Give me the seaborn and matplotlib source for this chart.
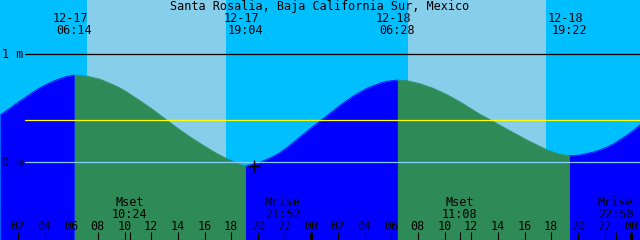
import matplotlib
matplotlib.use("Agg")
import matplotlib.pyplot as plt
import matplotlib.transforms as mtransforms
import seaborn as sns
import pandas as pd

title = "Santa Rosalia, Baja California Sur, Mexico"

# tide curve samples (hours since 12-17 00:00, metres)
tide_hours = [0.66, 1.16, 1.66, 2.16, 2.66, 3.16, 3.66, 4.16, 4.66, 5.16, 5.66, 6.233,
              7.16, 8.16, 9.16, 9.66, 10.16, 10.64, 11.16, 12.16, 12.66, 13.19,
              14.16, 15.16, 15.66, 16.16, 16.66, 17.16, 17.61, 18.16, 18.66, 19.067,
              20.16, 21.16, 21.66, 22.16, 23.16, 24.16, 24.66, 25.16, 26.16, 27.16,
              28.16, 29.16, 29.66, 30.467,
              31.16, 32.16, 33.16, 34.16, 35.16, 36.16, 36.66, 37.16, 37.56, 38.16,
              39.16, 40.16, 41.16, 41.61, 42.16, 42.66, 43.367,
              44.16, 45.16, 45.66, 46.16, 46.66, 47.16, 47.66, 48.16, 48.66]
tide_levels = [0.438, 0.480, 0.525, 0.568, 0.610, 0.652, 0.690, 0.723, 0.751, 0.775, 0.795, 0.808,
               0.799, 0.770, 0.718, 0.688, 0.652, 0.612, 0.571, 0.485, 0.438, 0.389,
               0.300, 0.215, 0.176, 0.138, 0.100, 0.065, 0.038, 0.008, -0.020, -0.035,
               0.000, 0.055, 0.090, 0.135, 0.235, 0.335, 0.382, 0.430, 0.528, 0.615,
               0.685, 0.733, 0.750, 0.762,
               0.757, 0.728, 0.685, 0.628, 0.560, 0.483, 0.445, 0.412, 0.385, 0.343,
               0.275, 0.208, 0.147, 0.120, 0.093, 0.075, 0.061,
               0.068, 0.095, 0.115, 0.140, 0.170, 0.210, 0.250, 0.295, 0.345]

# high / low tide events
extreme_hours = [6.233, 19.067, 30.467, 43.367]
extreme_dates = ["12-17", "12-17", "12-18", "12-18"]
extreme_times = ["06:14", "19:04", "06:28", "19:22"]

# daylight intervals
day_start_hours = [7.18, 31.26]
day_end_hours = [17.61, 41.61]

# moon events
moon_hours = [10.40, 21.87, 35.13, 46.83]
moon_events = ["Mset", "Mrise", "Mset", "Mrise"]
moon_times = ["10:24", "21:52", "11:08", "22:50"]

# hour ticks
tick_hours = list(range(2, 49, 2))
tick_labels = ["02", "04", "06", "08", "10", "12", "14", "16", "18", "20", "22", "00",
               "02", "04", "06", "08", "10", "12", "14", "16", "18", "20", "22", "00"]
midnight_hours = [24, 48]

# reference levels
ref_levels = [1.0, 0.389, 0.0]
ref_colors = ["black", "#ffff00", "#87cefa"]
axis_levels = [1.0, 0.0]
axis_labels = ["1 m", "0 m"]

mark_hour = [19.73]
mark_level = [-0.03]

X_MIN, X_MAX = 0.66, 48.66
Y_MIN, Y_MAX = -0.719, 1.503

NIGHT = "#00bfff"
DAY = "#87ceeb"
RISE = "#0000ff"
FALL = "#2e8b57"

sns.set_style("white")
plt.rcParams["font.family"] = ["DejaVu Sans Mono", "DejaVu Sans"]
FS = 8.5

fig = plt.figure(figsize=(6.4, 2.4), dpi=100)
ax = fig.add_axes([0, 0, 1, 1])
ax.set_facecolor(NIGHT)

for a, b in zip(day_start_hours, day_end_hours):
    ax.axvspan(a, b, color=DAY, lw=0, zorder=0)

df = pd.DataFrame({"hour": tide_hours, "level": tide_levels})
bounds = [X_MIN] + extreme_hours + [X_MAX]
for i in range(len(bounds) - 1):
    seg = df[(df.hour >= bounds[i] - 1e-9) & (df.hour <= bounds[i + 1] + 1e-9)]
    col = RISE if i % 2 == 0 else FALL
    ax.fill_between(seg.hour, seg.level, Y_MIN, color=col, lw=0, zorder=1)
    sns.lineplot(data=seg, x="hour", y="level", ax=ax, color=col, lw=0.6,
                 sort=False, zorder=2, legend=False)

ax.set_xlim(X_MIN, X_MAX)
ax.set_ylim(Y_MIN, Y_MAX)
ax.set_xlabel("")
ax.set_ylabel("")
for s in ax.spines.values():
    s.set_visible(False)
ax.set_xticks([])
ax.set_yticks([])

x_start_frac = 25 / 640
for lv, c in zip(ref_levels, ref_colors):
    ax.axhline(lv, xmin=x_start_frac, xmax=1, color=c, lw=0.9, zorder=3)


def ypx(p):
    return 1 - p / 240.0


xt = ax.get_xaxis_transform()
yt = ax.get_yaxis_transform()

for lv, lab in zip(axis_levels, axis_labels):
    ax.text(2 / 640, lv, lab, transform=yt, ha="left", va="center",
            fontsize=FS, color="black", zorder=5)

ax.text(0.5, ypx(10), title, transform=ax.transAxes, ha="center",
        va="baseline", fontsize=FS, color="black", zorder=5)

date_tr = mtransforms.offset_copy(xt, fig=fig, x=-3.7, y=0, units="dots")
for h, d, t in zip(extreme_hours, extreme_dates, extreme_times):
    ax.text(h, ypx(21.7), d, transform=date_tr, ha="center", va="baseline",
            fontsize=FS, color="black", zorder=5)
    ax.text(h, ypx(33.7), t, transform=xt, ha="center", va="baseline",
            fontsize=FS, color="black", zorder=5)

for h, e, t in zip(moon_hours, moon_events, moon_times):
    ax.text(h, ypx(206), e, transform=xt, ha="center", va="baseline",
            fontsize=FS, color="black", zorder=5)
    ax.text(h, ypx(217.7), t, transform=xt, ha="center", va="baseline",
            fontsize=FS, color="black", zorder=5)
    ax.vlines(h, 0, ypx(232), transform=xt, color="black", lw=0.8, zorder=5)

for h, lab in zip(tick_hours, tick_labels):
    ax.text(h, ypx(230), lab, transform=xt, ha="center", va="baseline",
            fontsize=FS, color="black", zorder=5)
    ax.vlines(h, 0, ypx(232), transform=xt, color="black", lw=0.8, zorder=5)

ax.vlines(midnight_hours, 0, ypx(232), transform=xt, color="black", lw=2.2, zorder=5)

ax.plot(mark_hour, mark_level, marker="+", color="black", ms=9, mew=1.0,
        ls="none", zorder=6)

fig.savefig("out.png", dpi=100)
